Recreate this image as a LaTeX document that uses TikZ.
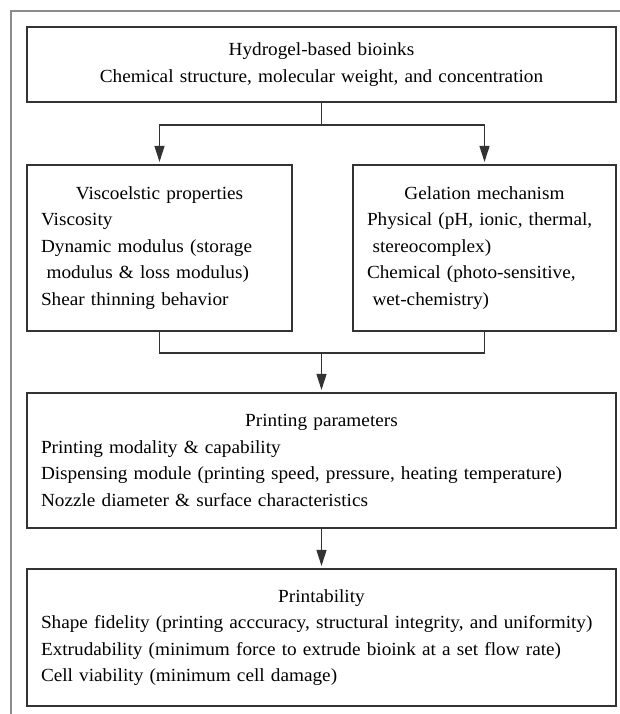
\documentclass[tikz,border=0pt]{standalone}
\usepackage{fontspec}
\setmainfont[FakeStretch=1.04, WordSpace=0.7]{Liberation Serif}
\usetikzlibrary{arrows.meta}
\begin{document}
\begin{tikzpicture}[x=1pt, y=-1pt, draw=black!80, line width=1.1pt,
	box/.style={rectangle, draw, inner xsep=14pt, inner ysep=0pt, align=left, font=\fontsize{18.5}{26.5}\selectfont},
	link/.style={-{Triangle[length=16pt,width=10pt]}, shorten >=2.5pt}]
	\useasboundingbox (0,0) rectangle (620,714);
	\draw[draw=black!45, line width=1.5pt] (11,714) -- (11,11) -- (620,11);
	\node (inks) at (321.5, 64.5)	[box, align=center, text width=561pt, minimum height=75pt]	{Hydrogel-based bioinks\\ Chemical structure, molecular weight, and concentration};
	\node (visco) at (159.5, 248)	[box, text width=237pt, minimum height=166pt]	{{\centering Viscoelstic properties\par}Viscosity\\ Dynamic modulus (storage\\ \hspace*{0.3em}modulus \& loss modulus)\\ Shear thinning behavior};
	\node (gel) at (484.5, 248)	[box, text width=235pt, minimum height=166pt]	{{\centering Gelation mechanism\par}Physical (pH, ionic, thermal,\\ \hspace*{0.3em}stereocomplex)\\ Chemical (photo-sensitive,\\ \hspace*{0.3em}wet-chemistry)};
	\node (print) at (321.5, 460.5)	[box, text width=561pt, minimum height=135pt]	{{\centering Printing parameters\par}Printing modality \& capability\\ Dispensing module (printing speed, pressure, heating temperature)\\ Nozzle diameter \& surface characteristics};
	\node (printab) at (321.5, 637.5)	[box, text width=561pt, minimum height=137pt]	{{\centering Printability\par}Shape fidelity (printing acccuracy, structural integrity, and uniformity)\\ Extrudability (minimum force to extrude bioink at a set flow rate)\\ Cell viability (minimum cell damage)};
	\coordinate (fork) at (321.5, 125);
	\coordinate (merge) at (321.5, 353);
	\draw (inks) -- (fork);
	\draw[link] (fork) -| (visco);
	\draw[link] (fork) -| (gel);
	\draw (visco) |- (merge);
	\draw (gel) |- (merge);
	\draw[link] (merge) -- (print);
	\draw[link] (print) -- (printab);
\end{tikzpicture}
\end{document}
